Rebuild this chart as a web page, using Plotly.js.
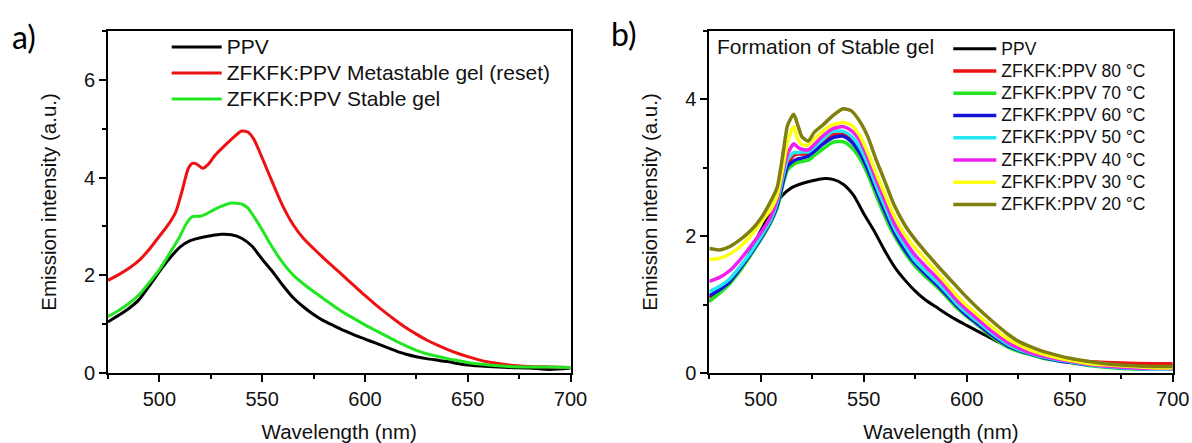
<!DOCTYPE html>
<html>
<head>
<meta charset="utf-8">
<script src="https://cdn.plot.ly/plotly-3.0.1.min.js"></script>
<style>html,body{margin:0;padding:0;background:#fff;}#chart{width:1192px;height:443px;}</style>
</head>
<body>
<div id="chart"></div>
<script>
// ---------- Panel a data ----------
var xPPV = [475,480,485,490,495,500,505,510,515,520,525,530,535,540,545,550,555,560,565,570,575,580,585,590,595,600,605,610,615,620,625,630,635,640,645,650,660,670,680,690,700];
var yPPV = [1.05,1.18,1.32,1.50,1.78,2.08,2.35,2.58,2.71,2.77,2.81,2.84,2.83,2.76,2.60,2.33,2.08,1.80,1.55,1.36,1.20,1.07,0.97,0.87,0.78,0.70,0.62,0.54,0.46,0.39,0.34,0.30,0.27,0.24,0.20,0.17,0.14,0.12,0.11,0.08,0.11];

var xMeta = [475,480,485,490,495,500,505,508,511,514,516,518,521,524,527,530,535,540,543,546,550,555,560,565,570,575,580,585,590,595,600,605,610,615,620,625,630,635,640,645,650,655,660,670,680,690,700];
var yMeta = [1.90,2.01,2.14,2.30,2.53,2.80,3.08,3.30,3.72,4.18,4.29,4.28,4.19,4.28,4.45,4.58,4.78,4.95,4.93,4.78,4.40,3.90,3.42,3.04,2.76,2.55,2.35,2.16,1.97,1.78,1.59,1.41,1.24,1.08,0.93,0.80,0.68,0.58,0.49,0.41,0.34,0.28,0.23,0.17,0.14,0.13,0.12];

var xStable = [475,480,485,490,495,500,505,510,513,516,520,523,526,530,535,540,543,546,550,555,560,565,570,575,580,585,590,595,600,605,610,615,620,625,630,635,640,645,650,660,670,680,690,700];
var yStable = [1.16,1.28,1.42,1.60,1.85,2.12,2.45,2.80,3.05,3.20,3.21,3.26,3.33,3.41,3.48,3.46,3.38,3.20,2.93,2.57,2.26,2.01,1.83,1.67,1.52,1.37,1.23,1.11,0.99,0.88,0.77,0.66,0.56,0.47,0.40,0.35,0.30,0.26,0.22,0.17,0.14,0.13,0.13,0.12];

// ---------- Panel b data ----------
var xB = [475,480,485,490,495,500,505,508,511,513,516,518,520,523,526,530,535,540,544,548,552,556,560,565,570,575,580,587,595,600,605,612,620,625,630,637,645,650,660,675,690,700];
var y80 = [1.10,1.20,1.33,1.52,1.73,1.96,2.22,2.45,2.85,3.05,3.18,3.20,3.20,3.21,3.28,3.38,3.48,3.49,3.42,3.26,3.01,2.70,2.41,2.08,1.83,1.62,1.47,1.27,1.01,0.87,0.74,0.57,0.42,0.36,0.31,0.26,0.21,0.19,0.17,0.15,0.14,0.14];
var y70 = [1.05,1.17,1.31,1.50,1.72,1.95,2.21,2.42,2.78,2.97,3.05,3.08,3.09,3.11,3.18,3.27,3.37,3.38,3.30,3.14,2.90,2.60,2.31,2.00,1.76,1.56,1.41,1.22,0.96,0.83,0.71,0.54,0.38,0.32,0.28,0.22,0.18,0.16,0.11,0.07,0.06,0.06];
var y60 = [1.13,1.22,1.34,1.53,1.74,1.97,2.23,2.45,2.82,3.02,3.10,3.13,3.14,3.17,3.24,3.34,3.44,3.46,3.38,3.22,2.97,2.67,2.38,2.05,1.80,1.60,1.45,1.25,0.99,0.85,0.73,0.56,0.40,0.34,0.29,0.23,0.18,0.16,0.12,0.08,0.06,0.06];
var y50 = [1.19,1.27,1.38,1.56,1.76,1.99,2.25,2.50,2.90,3.12,3.22,3.22,3.23,3.23,3.30,3.41,3.53,3.53,3.46,3.30,3.05,2.74,2.45,2.11,1.86,1.64,1.49,1.29,1.02,0.88,0.76,0.59,0.42,0.35,0.30,0.24,0.19,0.17,0.12,0.08,0.06,0.06];
var y40 = [1.34,1.40,1.50,1.66,1.85,2.05,2.30,2.55,2.98,3.20,3.35,3.30,3.27,3.26,3.34,3.46,3.57,3.60,3.54,3.40,3.14,2.83,2.54,2.18,1.93,1.72,1.56,1.35,1.07,0.93,0.80,0.62,0.45,0.37,0.31,0.25,0.20,0.18,0.13,0.09,0.07,0.07];
var y30 = [1.66,1.68,1.74,1.85,2.00,2.20,2.40,2.60,3.05,3.38,3.60,3.42,3.34,3.33,3.42,3.53,3.63,3.66,3.62,3.47,3.22,2.92,2.63,2.28,2.02,1.83,1.66,1.42,1.14,0.99,0.86,0.68,0.50,0.42,0.35,0.28,0.22,0.19,0.14,0.11,0.08,0.08];
var y20 = [1.82,1.80,1.85,1.95,2.08,2.26,2.52,2.72,3.25,3.62,3.78,3.62,3.45,3.39,3.52,3.62,3.76,3.86,3.83,3.68,3.45,3.12,2.82,2.44,2.16,1.95,1.77,1.53,1.27,1.11,0.96,0.77,0.57,0.47,0.40,0.32,0.255,0.22,0.17,0.12,0.10,0.10];

var namesA = ['PPV','ZFKFK:PPV Metastable gel (reset)','ZFKFK:PPV Stable gel'];
var namesB = ['PPV','ZFKFK:PPV 80 °C','ZFKFK:PPV 70 °C','ZFKFK:PPV 60 °C','ZFKFK:PPV 50 °C','ZFKFK:PPV 40 °C','ZFKFK:PPV 30 °C','ZFKFK:PPV 20 °C'];
var colorsA = ['#000000','#ee1111','#22e622'];
var colorsB = ['#000000','#ee1111','#22e622','#1414d8','#22e8f0','#f020f0','#ffff10','#80800f'];

var FONT = 'Liberation Sans, Arial, sans-serif';
var W = 1192, H = 443;
function px(x){return x/W;}
function py(y){return 1 - y/H;}
function sized(t, s){return '<span style="font-size:' + s + 'px">' + t + '</span>';}

var traces = [];
var setsA = [[xPPV,yPPV],[xMeta,yMeta],[xStable,yStable]];
setsA.forEach(function(s,i){
  traces.push({x:s[0], y:s[1], type:'scatter', mode:'lines', name:sized(namesA[i], 21),
    line:{color:colorsA[i], width:3, shape:'spline', smoothing:0.6},
    xaxis:'x', yaxis:'y', legend:'legend', hoverinfo:'skip'});
});
var setsB = [[xPPV,yPPV],[xB,y80],[xB,y70],[xB,y60],[xB,y50],[xB,y40],[xB,y30],[xB,y20]];
setsB.forEach(function(s,i){
  traces.push({x:s[0], y:s[1], type:'scatter', mode:'lines', name:sized(namesB[i], 17.5),
    line:{color:colorsB[i], width:(i===0?3:3.5), shape:'spline', smoothing:0.6},
    xaxis:'x2', yaxis:'y2', legend:'legend2', hoverinfo:'skip'});
});

var yDom = [py(373.3), py(30.7)];
function xax(dom, anchor){
  return {domain:dom, range:[475,700], anchor:anchor, dtick:50, tick0:500,
    showline:true, mirror:true, linecolor:'#000', linewidth:2,
    ticks:'outside', ticklen:7, tickwidth:2, tickcolor:'#000',
    minor:{ticks:'outside', ticklen:4, tickwidth:2, tickcolor:'#000', dtick:25, tick0:475},
    showgrid:false, zeroline:false,
    tickfont:{family:FONT, size:20, color:'#111'},
    title:{text:'Wavelength (nm)', font:{family:FONT, size:20.5, color:'#111'}}};
}
function yax(range, anchor){
  return {domain:yDom, range:range, anchor:anchor, dtick:2, tick0:0,
    showline:true, mirror:true, linecolor:'#000', linewidth:2,
    ticks:'outside', ticklen:7, tickwidth:2, tickcolor:'#000',
    minor:{ticks:'outside', ticklen:4, tickwidth:2, tickcolor:'#000', dtick:1},
    showgrid:false, zeroline:false,
    tickfont:{family:FONT, size:20, color:'#111'},
    title:{text:'Emission intensity (a.u.)', font:{family:FONT, size:20.5, color:'#111'}}};
}

var layout = {
  width:W, height:H, margin:{l:0,r:0,t:0,b:0},
  paper_bgcolor:'#fff', plot_bgcolor:'#fff',
  font:{family:FONT, color:'#111'},
  xaxis: xax([px(108), px(570.5)], 'y'),
  yaxis: yax([0,7], 'x'),
  xaxis2: xax([px(709.3), px(1172.7)], 'y2'),
  yaxis2: yax([0,5], 'x2'),
  legend:{x:px(166.7), y:py(29), xanchor:'left', yanchor:'top', bgcolor:'rgba(0,0,0,0)',
    font:{family:FONT, size:17.7, color:'#111'}, itemwidth:50, tracegroupgap:0},
  legend2:{x:px(948.3), y:py(32.6), xanchor:'left', yanchor:'top', bgcolor:'rgba(0,0,0,0)',
    font:{family:FONT, size:14.8, color:'#111'}, itemwidth:43, tracegroupgap:0},
  showlegend:true,
  annotations:[
    {text:'a)', xref:'paper', yref:'paper', x:px(10), y:py(36), xanchor:'left', yanchor:'middle',
      showarrow:false, font:{family:'Lato, Open Sans, sans-serif', size:32, color:'#000'}},
    {text:'b)', xref:'paper', yref:'paper', x:px(609), y:py(33), xanchor:'left', yanchor:'middle',
      showarrow:false, font:{family:'Lato, Open Sans, sans-serif', size:32, color:'#000'}},
    {text:'Formation of Stable gel', xref:'paper', yref:'paper', x:px(715), y:py(46.7), xanchor:'left', yanchor:'middle',
      showarrow:false, font:{family:FONT, size:21, color:'#111'}}
  ]
};

Plotly.newPlot('chart', traces, layout, {staticPlot:true, displayModeBar:false});
</script>
</body>
</html>
